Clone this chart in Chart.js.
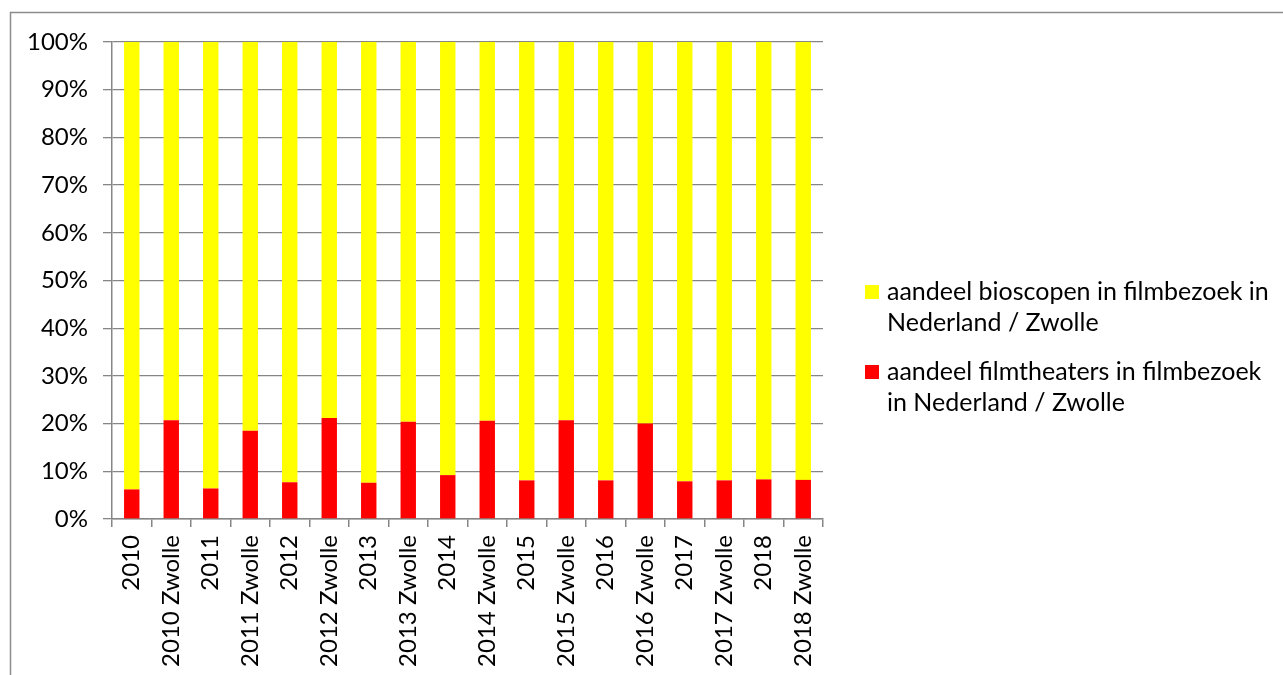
<!DOCTYPE html>
<html>
<head>
<meta charset="utf-8">
<script src="https://cdn.jsdelivr.net/npm/chart.js@4/dist/chart.umd.min.js"></script>
<style>
	html, body { margin: 0; padding: 0; background: #fff; overflow: hidden; }
	#chart-wrapper { position: relative; width: 1283px; height: 675px; }
</style>
</head>
<body>
<div id="chart-wrapper"><canvas id="dynamic-chart"></canvas></div>
<script>
// Data (share in %)
const categories = ['2010', '2010 Zwolle', '2011', '2011 Zwolle', '2012', '2012 Zwolle', '2013', '2013 Zwolle',
	'2014', '2014 Zwolle', '2015', '2015 Zwolle', '2016', '2016 Zwolle', '2017', '2017 Zwolle', '2018', '2018 Zwolle'];
const filmtheaters_share = [6.2, 20.7, 6.4, 18.5, 7.7, 21.2, 7.6, 20.4, 9.2, 20.6, 8.1, 20.7, 8.1, 20.0, 7.9, 8.1, 8.3, 8.2];
const bioscopen_share = [93.8, 79.3, 93.6, 81.5, 92.3, 78.8, 92.4, 79.6, 90.8, 79.4, 91.9, 79.3, 91.9, 80.0, 92.1, 91.9, 91.7, 91.8];
const y_ticks = [0, 10, 20, 30, 40, 50, 60, 70, 80, 90, 100];

const bioscopen_label = ['aandeel bioscopen in filmbezoek in', 'Nederland / Zwolle'];
const filmtheaters_label = ['aandeel filmtheaters in filmbezoek', 'in Nederland / Zwolle'];

const font_family = 'Lato, "Liberation Sans", sans-serif';
const grid_color = '#868686';

// Outer frame like the office chart border
const frame_plugin = {
	id: 'frame',
	beforeDraw(chart) {
		const ctx = chart.ctx;
		ctx.save();
		ctx.strokeStyle = '#8c8c8c';
		ctx.lineWidth = 1.5;
		ctx.strokeRect(10.5, 12.5, 1400, 1000);
		ctx.restore();
	}
};

// Legend on the right, wrapped over two lines (yellow listed first like the source)
const side_legend = {
	id: 'sideLegend',
	afterDraw(chart) {
		const ctx = chart.ctx;
		const items = [chart.data.datasets[1], chart.data.datasets[0]];
		const start_y = [292, 372];
		ctx.save();
		ctx.font = '25px ' + font_family;
		ctx.textBaseline = 'middle';
		items.forEach((ds, i) => {
			const y = start_y[i];
			ctx.fillStyle = ds.backgroundColor;
			ctx.fillRect(865, y - 7, 14, 14);
			ctx.fillStyle = '#000';
			ds.legend_lines.forEach((line, j) => {
				ctx.fillText(line, 887, y + j * 31);
			});
		});
		ctx.restore();
	}
};

const config = {
	type: 'bar',
	data: {
		labels: categories,
		datasets: [{
			label: filmtheaters_label.join(' '),
			legend_lines: filmtheaters_label,
			data: filmtheaters_share,
			backgroundColor: '#ff0000',
			barPercentage: 0.39,
			categoryPercentage: 1
		}, {
			label: bioscopen_label.join(' '),
			legend_lines: bioscopen_label,
			data: bioscopen_share,
			backgroundColor: '#ffff00',
			barPercentage: 0.39,
			categoryPercentage: 1
		}]
	},
	options: {
		responsive: false,
		animation: false,
		devicePixelRatio: 1,
		layout: { padding: { top: 42, right: 460, left: 0, bottom: 0 } },
		plugins: {
			legend: { display: false },
			tooltip: { enabled: false }
		},
		scales: {
			x: {
				stacked: true,
				grid: {
					offset: true,
					drawOnChartArea: false,
					drawTicks: true,
					tickLength: 8,
					color: grid_color,
					lineWidth: 1.5
				},
				border: { color: grid_color, width: 1.5 },
				ticks: {
					autoSkip: false,
					minRotation: 90,
					maxRotation: 90,
					padding: 8,
					color: '#000',
					font: { family: font_family, size: 24 }
				},
				afterFit(scale) { scale.height = 156; }
			},
			y: {
				stacked: true,
				min: 0,
				max: 100,
				afterBuildTicks(scale) { scale.ticks = y_ticks.map(v => ({ value: v })); },
				grid: {
					color: grid_color,
					lineWidth: 1.3,
					tickLength: 9
				},
				border: { color: grid_color, width: 1.5 },
				ticks: {
					padding: 15,
					color: '#000',
					font: { family: font_family, size: 24 },
					callback: v => v + '%'
				},
				afterFit(scale) { scale.width = 112; }
			}
		}
	},
	plugins: [frame_plugin, side_legend]
};

const chart_area = document.getElementById('dynamic-chart');
chart_area.width = 1283;
chart_area.height = 675;
const chart_var = new Chart(chart_area, config);
</script>
</body>
</html>
